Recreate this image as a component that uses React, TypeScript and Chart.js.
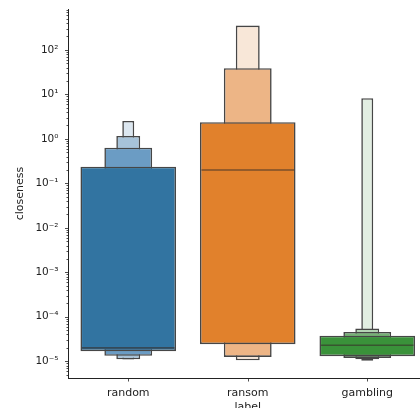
import React, { useEffect, useRef } from "react";
import { Chart, registerables } from "chart.js";

Chart.register(...registerables);

// ---- data ----
const categories = ["random", "ransom", "gambling"];

// letter-value boxes [low, high] per category; level1 = innermost (IQR) box
const level1 = [[1.68e-5, 0.236], [2.42e-5, 2.36], [1.3e-5, 3.75e-5]];
const level2 = [[1.33e-5, 0.63], [1.25e-5, 38.7], [1.19e-5, 4.57e-5]];
const level3 = [[1.11e-5, 1.16], [1.05e-5, 352], [1.11e-5, 5.45e-5]];
const level4 = [[1.09e-5, 2.52], null, [1.03e-5, 8.19]];
const medians = [2.0e-5, 0.199, 2.29e-5];

const level1Colors = ["#3274a1", "#e1812c", "#3a923a"];
const level2Colors = ["#6b9cc4", "#edb586", "#75b175"];
const level3Colors = ["#a7c3d9", "#f8e7d8", "#b3d4b3"];
const level4Colors = ["#dce7f0", "#f8e7d8", "#e2eee2"];

const yMin = 4.2e-6;
const yMax = 830;
const tickExponents = [-5, -4, -3, -2, -1, 0, 1, 2];
const tickLabels = ["10⁻⁵", "10⁻⁴", "10⁻³", "10⁻²", "10⁻¹", "10⁰", "10¹", "10²"];
const minorExponents = [-6, -5, -4, -3, -2, -1, 0, 1, 2];
const minorMultipliers = [1, 2, 3, 4, 5, 6, 7, 8, 9];

const FONT = "DejaVu Sans";
const TEXT = "#222222";
const EDGE = "#464646";

const isMajor = (v: number) => {
  const l = Math.log10(v);
  return Math.abs(l - Math.round(l)) < 1e-9;
};

const tickPlugin = {
  id: "mplTicks",
  afterDraw(chart: any) {
    const { ctx, chartArea } = chart;
    const x = chart.scales.x;
    const y = chart.scales.y;
    ctx.save();
    ctx.strokeStyle = TEXT;
    ctx.lineWidth = 0.8;
    y.ticks.forEach((t: any) => {
      const py = Math.round(y.getPixelForValue(t.value)) + 0.5;
      const len = isMajor(t.value) ? 3.5 : 2;
      ctx.beginPath();
      ctx.moveTo(chartArea.left, py);
      ctx.lineTo(chartArea.left - len, py);
      ctx.stroke();
    });
    categories.forEach((_, i) => {
      const px = Math.round(x.getPixelForValue(i)) + 0.5;
      ctx.beginPath();
      ctx.moveTo(px, chartArea.bottom);
      ctx.lineTo(px, chartArea.bottom + 3.5);
      ctx.stroke();
    });
    ctx.restore();
  },
};

const medianPlugin = {
  id: "medians",
  afterDatasetsDraw(chart: any) {
    const { ctx } = chart;
    const y = chart.scales.y;
    const meta = chart.getDatasetMeta(0);
    ctx.save();
    ctx.strokeStyle = "rgba(55,45,40,0.6)";
    ctx.lineWidth = 1.6;
    medians.forEach((m, i) => {
      const bar = meta.data[i];
      if (!bar) return;
      const py = y.getPixelForValue(m);
      ctx.beginPath();
      ctx.moveTo(bar.x - bar.width / 2 + 1.5, py);
      ctx.lineTo(bar.x + bar.width / 2 - 1.5, py);
      ctx.stroke();
    });
    ctx.restore();
  },
};

export default function App() {
  const ref = useRef<HTMLCanvasElement | null>(null);

  useEffect(() => {
    if (!ref.current) return;
    const mk = (data: any[], colors: string[], pct: number) => ({
      data,
      backgroundColor: colors,
      borderColor: EDGE,
      borderWidth: 1.6,
      borderSkipped: false,
      grouped: false,
      barPercentage: pct,
      categoryPercentage: 1,
    });
    const chart = new Chart(ref.current, {
      type: "bar",
      data: {
        labels: categories,
        datasets: [
          mk(level1, level1Colors, 0.8),
          mk(level2, level2Colors, 0.4),
          mk(level3, level3Colors, 0.2),
          mk(level4, level4Colors, 0.1),
        ] as any,
      },
      options: {
        responsive: false,
        animation: false,
        layout: { padding: { left: 0, top: 9, right: 3, bottom: 0 } },
        plugins: { legend: { display: false }, tooltip: { enabled: false } },
        scales: {
          x: {
            type: "category",
            offset: true,
            grid: { display: false, drawTicks: false, tickLength: 0 },
            border: { display: true, color: TEXT, width: 1 },
            ticks: { padding: 9, color: TEXT, font: { family: FONT, size: 11 } },
            title: {
              display: true,
              text: "label",
              color: TEXT,
              font: { family: FONT, size: 11 },
              padding: { top: 0, bottom: 2 },
            },
            afterFit: (s: any) => {
              s.height = 38;
              s.paddingLeft = 0;
              s.paddingRight = 0;
            },
          },
          y: {
            type: "logarithmic",
            min: yMin,
            max: yMax,
            grid: { display: false, drawTicks: false, tickLength: 0 },
            border: { display: true, color: TEXT, width: 1 },
            ticks: {
              autoSkip: false,
              padding: 10,
              color: TEXT,
              font: { family: FONT, size: 10.5 },
              callback: (value: any) => {
                const l = Math.log10(Number(value));
                const idx = tickExponents.findIndex((e) => Math.abs(e - l) < 1e-9);
                return idx >= 0 ? tickLabels[idx] : "";
              },
            },
            afterBuildTicks: (s: any) => {
              const t: any[] = [];
              minorExponents.forEach((e) =>
                minorMultipliers.forEach((m) => {
                  const v = m * Math.pow(10, e);
                  if (v >= yMin && v <= yMax) t.push({ value: v });
                })
              );
              s.ticks = t;
            },
            title: {
              display: true,
              text: "closeness",
              color: TEXT,
              font: { family: FONT, size: 11 },
              padding: { top: 14, bottom: 0 },
            },
            afterFit: (s: any) => {
              s.width = 68.5;
              s.paddingTop = 0;
              s.paddingBottom = 0;
            },
          },
        },
      } as any,
      plugins: [medianPlugin, tickPlugin],
    });
    return () => chart.destroy();
  }, []);

  return (
    <div
      style={{
        position: "absolute",
        left: 0,
        top: 0,
        width: 420,
        height: 408,
        overflow: "hidden",
        background: "#ffffff",
      }}
    >
      <canvas ref={ref} width={430} height={416} style={{ width: 430, height: 416, display: "block" }} />
    </div>
  );
}
